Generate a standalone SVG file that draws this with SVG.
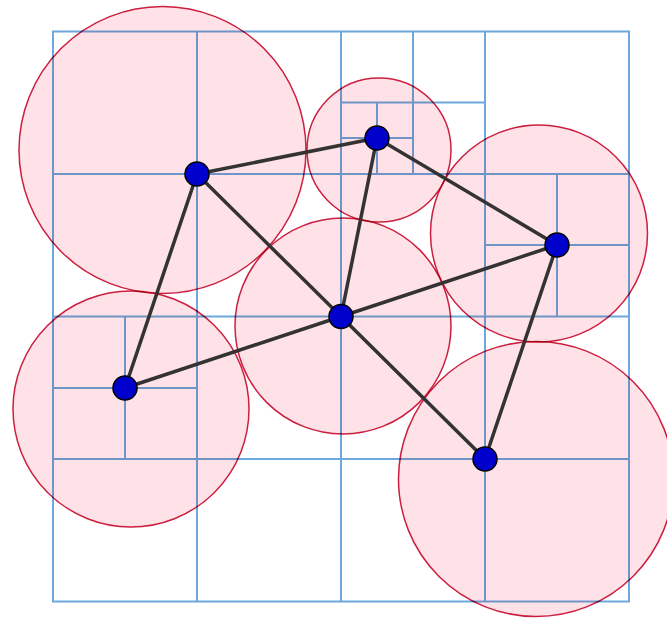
<svg xmlns="http://www.w3.org/2000/svg" width="667" height="618" viewBox="0 0 667 618">
<style>
.g{stroke:#6fa8dc;stroke-width:2;fill:none}
.c{fill:#ffe2e8;stroke:#cc1f3f;stroke-width:1.5;mix-blend-mode:multiply}
.e{stroke:#333;stroke-width:3.5;stroke-linecap:round}
.n{fill:#0000cc;stroke:#000;stroke-width:1.5}
</style>
<rect width="667" height="618" fill="#fff"/>
<g id="grid" class="g">
<rect x="53" y="31.5" width="576" height="570"/>
<line x1="197" y1="31.5" x2="197" y2="601.5"/>
<line x1="341" y1="31.5" x2="341" y2="601.5"/>
<line x1="485" y1="31.5" x2="485" y2="601.5"/>
<line x1="53" y1="174" x2="629" y2="174"/>
<line x1="53" y1="316.5" x2="629" y2="316.5"/>
<line x1="53" y1="459" x2="629" y2="459"/>
<line x1="413" y1="31.5" x2="413" y2="174"/>
<line x1="341" y1="102.5" x2="485" y2="102.5"/>
<line x1="377" y1="102.5" x2="377" y2="174"/>
<line x1="341" y1="138" x2="413" y2="138"/>
<line x1="557" y1="174" x2="557" y2="316.5"/>
<line x1="485" y1="245" x2="629" y2="245"/>
<line x1="125" y1="316.5" x2="125" y2="459"/>
<line x1="53" y1="388" x2="197" y2="388"/>
</g>
<g id="circles">
<circle class="c" cx="162.5" cy="150" r="143.5"/>
<circle class="c" cx="379" cy="150" r="72"/>
<circle class="c" cx="539" cy="233.5" r="108.5"/>
<circle class="c" cx="343" cy="326" r="108"/>
<circle class="c" cx="131" cy="409" r="118"/>
<circle class="c" cx="536" cy="479" r="137.5"/>
</g>
<g id="connectors" class="e">
<line x1="197" y1="174" x2="377" y2="138"/>
<line x1="197" y1="174" x2="341" y2="316.5"/>
<line x1="197" y1="174" x2="125" y2="388"/>
<line x1="377" y1="138" x2="341" y2="316.5"/>
<line x1="377" y1="138" x2="557" y2="245"/>
<line x1="557" y1="245" x2="341" y2="316.5"/>
<line x1="557" y1="245" x2="485" y2="459"/>
<line x1="341" y1="316.5" x2="125" y2="388"/>
<line x1="341" y1="316.5" x2="485" y2="459"/>
</g>
<g id="nA"><circle class="n" cx="197" cy="174" r="12"/></g>
<g id="nB"><circle class="n" cx="377" cy="138" r="12"/></g>
<g id="nC"><circle class="n" cx="557" cy="245" r="12"/></g>
<g id="nD"><circle class="n" cx="341" cy="316.5" r="12"/></g>
<g id="nE"><circle class="n" cx="125" cy="388" r="12"/></g>
<g id="nF"><circle class="n" cx="485" cy="459" r="12"/></g>
</svg>
